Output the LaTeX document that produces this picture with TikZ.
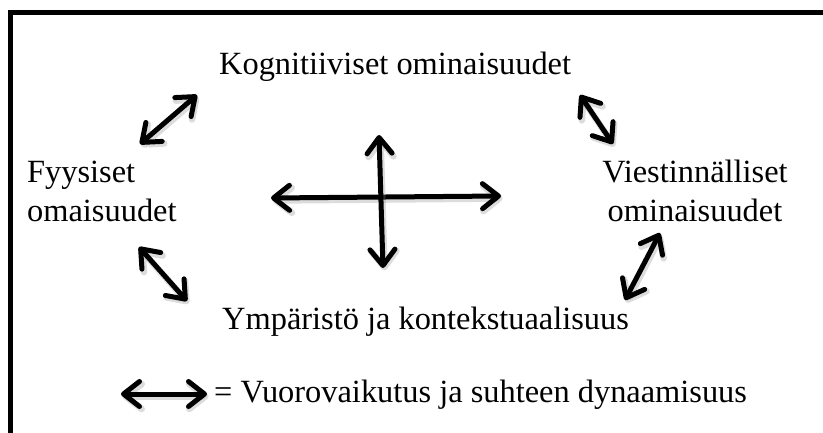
\documentclass[tikz,border=0pt]{standalone}
\usepackage{fontspec}
\setmainfont{Liberation Serif}
\usetikzlibrary{arrows.meta}
\tikzset{
  lbl/.style={inner sep=0pt, font=\fontsize{32.4}{39}\selectfont},
  barbtip/.style={Straight Barb[length=16pt,width=25pt,round]},
  dbl/.style={line width=5pt, line cap=round, {Straight Barb[length=16pt,width=25pt,round]}-{Straight Barb[length=16pt,width=25pt,round]}},
  dblshadow/.style={line width=6.5pt, line cap=round, draw=black!45, opacity=0.3,
    {Straight Barb[length=16pt,width=25pt,round]}-{Straight Barb[length=16pt,width=25pt,round]}},
}
\newcommand{\dblarrow}[2]{%
  \draw[dblshadow, transform canvas={shift={(1.5pt,-2.5pt)}}] (#1) -- (#2);
  \draw[dbl] (#1) -- (#2);}
\begin{document}
\begin{tikzpicture}[x=1pt,y=-1pt]
\useasboundingbox (0,0) rectangle (823,433);
\clip (0,0) rectangle (823,433);
\fill[white] (0,0) rectangle (823,433);
\draw[line width=5pt] (10.5,460) -- (10.5,12.5) -- (850,12.5);

\node[lbl, anchor=base west] (kog) at (219,75) {Kognitiiviset ominaisuudet};
\node[lbl, anchor=base west, align=left] (fyy) at (27,222) {Fyysiset\\omaisuudet};
\node[lbl, anchor=base, align=center] (vie) at (695,222) {Viestinnälliset\\ominaisuudet};
\node[lbl, anchor=base west] (ymp) at (222,330) {Ympäristö ja kontekstuaalisuus};
\node[lbl, anchor=base west] (leg) at (214,402) {= Vuorovaikutus ja suhteen dynaamisuus};

\coordinate (a1s) at (140,144); \coordinate (a1e) at (197,95);
\coordinate (a2s) at (580,95);  \coordinate (a2e) at (613,144);
\coordinate (a3s) at (139,247); \coordinate (a3e) at (187,301);
\coordinate (a4s) at (625,300); \coordinate (a4e) at (660,233);
\coordinate (hs) at (271,198);  \coordinate (he) at (501,196);
\coordinate (vs) at (379,135);  \coordinate (ve) at (383,268);
\coordinate (ls) at (121,394);  \coordinate (le) at (207,394);

\dblarrow{a1s}{a1e}
\dblarrow{a2s}{a2e}
\dblarrow{a3s}{a3e}
\dblarrow{a4s}{a4e}
\dblarrow{hs}{he}
\dblarrow{vs}{ve}
\dblarrow{ls}{le}
\end{tikzpicture}
\end{document}
